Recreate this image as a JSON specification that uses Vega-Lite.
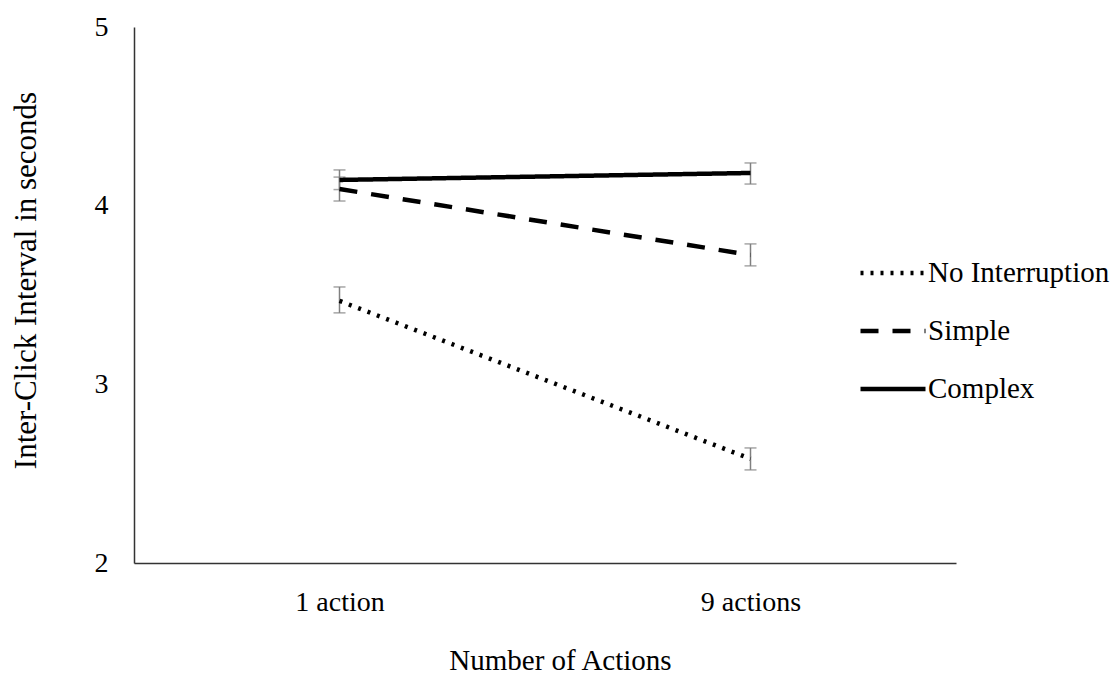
{
  "$schema": "https://vega.github.io/schema/vega-lite/v6.json",
  "width": 822,
  "height": 536,
  "autosize": "none",
  "padding": {"left": 134, "top": 27, "right": 163, "bottom": 114},
  "background": "white",
  "config": {
    "font": "Liberation Serif",
    "view": {"stroke": null},
    "axis": {
      "labelFont": "Liberation Serif",
      "titleFont": "Liberation Serif",
      "labelFontSize": 28,
      "titleFontSize": 29,
      "labelColor": "black",
      "titleColor": "black",
      "titleFontWeight": "normal",
      "grid": false,
      "ticks": false,
      "domainColor": "#333333",
      "domainWidth": 1.5
    },
    "legend": {
      "labelFont": "Liberation Serif",
      "labelFontSize": 29,
      "labelColor": "black",
      "labelLimit": 0
    }
  },
  "data": {
    "values": [
      {"actions": "1 action", "series": "No Interruption", "mean": 3.467, "lo": 3.400, "hi": 3.545},
      {"actions": "9 actions", "series": "No Interruption", "mean": 2.583, "lo": 2.521, "hi": 2.644},
      {"actions": "1 action", "series": "Simple", "mean": 4.093, "lo": 4.026, "hi": 4.160},
      {"actions": "9 actions", "series": "Simple", "mean": 3.724, "lo": 3.663, "hi": 3.786},
      {"actions": "1 action", "series": "Complex", "mean": 4.144, "lo": 4.090, "hi": 4.200},
      {"actions": "9 actions", "series": "Complex", "mean": 4.183, "lo": 4.121, "hi": 4.239}
    ]
  },
  "encoding": {
    "x": {
      "field": "actions",
      "type": "nominal",
      "scale": {"type": "point", "padding": 0.5},
      "axis": {"labelAngle": 0, "labelPadding": 25, "title": "Number of Actions", "titlePadding": 30, "titleX": 426}
    }
  },
  "layer": [
    {
      "mark": {"type": "rule", "color": "#808080", "strokeWidth": 1.5},
      "encoding": {
        "y": {"field": "lo", "type": "quantitative", "scale": {"domain": [2, 5]}, "axis": {"values": [2, 3, 4, 5], "format": "d", "labelPadding": 26, "title": "Inter-Click Interval in seconds", "titleFontSize": 31, "titlePadding": 52, "titleY": 253}},
        "y2": {"field": "hi"}
      }
    },
    {
      "mark": {"type": "tick", "color": "#808080", "thickness": 1.5, "size": 12},
      "encoding": {"y": {"field": "lo", "type": "quantitative"}}
    },
    {
      "mark": {"type": "tick", "color": "#808080", "thickness": 1.5, "size": 12},
      "encoding": {"y": {"field": "hi", "type": "quantitative"}}
    },
    {
      "mark": {"type": "line", "color": "black", "strokeWidth": 4.5, "strokeCap": "butt"},
      "encoding": {
        "y": {"field": "mean", "type": "quantitative"},
        "strokeDash": {
          "field": "series",
          "type": "nominal",
          "scale": {"domain": ["No Interruption", "Simple", "Complex"], "range": [[3, 7], [18, 14], [1, 0]]},
          "legend": {
            "title": null,
            "orient": "none",
            "legendX": 724,
            "legendY": 211,
            "symbolType": "stroke",
            "symbolSize": 4225,
            "symbolStrokeWidth": 4.5,
            "symbolStrokeColor": "black",
            "rowPadding": 8,
            "labelOffset": 0
          }
        }
      }
    }
  ]
}
